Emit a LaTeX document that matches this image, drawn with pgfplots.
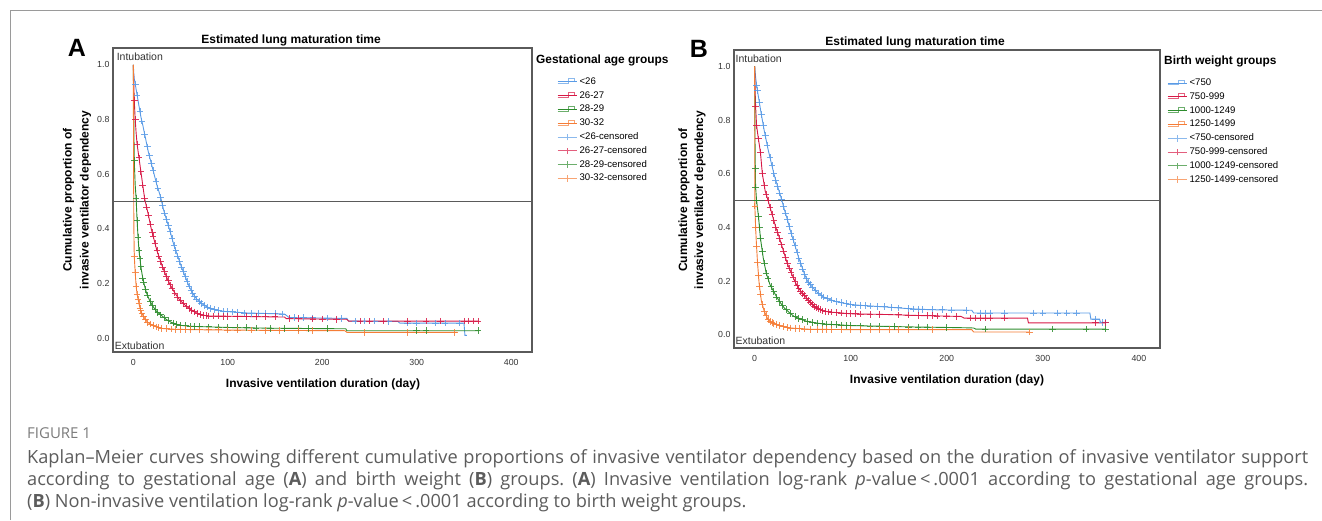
\documentclass[border=0pt]{standalone}
\usepackage{fontspec}
\setmainfont{Liberation Sans}
\newfontfamily\capfont{Open Sans}
\usepackage{pgfplots}
\usepackage{pgfplotstable}
\pgfplotsset{compat=1.18}

\definecolor{kmblue}{HTML}{5A9BE6}
\definecolor{kmred}{HTML}{D71946}
\definecolor{kmgreen}{HTML}{2D8C2D}
\definecolor{kmorange}{HTML}{F57D37}
\definecolor{boxgray}{HTML}{5A5A5A}
\definecolor{framegray}{HTML}{9A9A9A}
\definecolor{capgray}{HTML}{5C5C5C}

% ---------- panel A: gestational age groups ----------
\pgfplotstableread{
t s
0 1.0
0.5 0.97
1 0.95
2 0.93
4 0.89
6 0.85
8 0.81
10 0.78
13 0.73
16 0.68
19 0.64
22 0.60
25 0.56
29 0.515
32 0.47
35 0.435
39 0.39
43 0.34
47 0.30
51 0.26
55 0.225
59 0.19
63 0.163
67 0.143
72 0.127
78 0.114
85 0.105
95 0.098
120 0.092
160 0.088
165 0.075
226 0.072
228 0.062
280 0.061
282 0.055
350 0.055
351 0.01
353 0.01
}\blueA
\pgfplotstableread{
t s
0 1.0
0.5 0.93
1 0.87
2 0.80
3 0.75
4 0.71
6 0.66
8 0.61
10 0.56
12 0.51
14 0.48
16 0.45
19 0.40
22 0.36
25 0.32
28 0.29
31 0.26
35 0.225
39 0.195
44 0.165
49 0.14
55 0.12
61 0.104
67 0.092
73 0.084
80 0.081
100 0.080
160 0.077
162 0.071
226 0.069
228 0.062
366 0.062
}\redA
\pgfplotstableread{
t s
0 1.0
0.5 0.80
1 0.65
2 0.56
3 0.51
4 0.43
5 0.37
6 0.32
7 0.29
8.5 0.25
10 0.22
12 0.19
14 0.165
17 0.14
20 0.12
24 0.10
29 0.085
35 0.068
40 0.058
49 0.047
60 0.043
80 0.041
110 0.038
150 0.036
225 0.034
226 0.027
366 0.027
}\greenA
\pgfplotstableread{
t s
0 1.0
0.3 0.60
0.6 0.40
1 0.30
2 0.24
3 0.19
4 0.16
5.5 0.135
7 0.11
9 0.09
12 0.072
15 0.058
20 0.047
25 0.04
31 0.035
45 0.032
80 0.030
150 0.028
224 0.027
226 0.021
343 0.021
}\orangeA
\pgfplotstableread{
t s
2 .93
4 .89
7 .83
9 .795
12 .745
15 .70
17 .667
19 .64
21 .613
24 .573
26 .549
29 .515
31 .485
33 .458
35 .435
37 .412
39 .39
41 .365
43 .34
45 .32
47 .30
49 .28
51 .26
53 .243
55 .225
57 .207
59 .19
61 .176
63 .163
65 .153
67 .143
70 .133
72 .127
75 .12
78 .114
82 .109
86 .104
90 .101
95 .098
100 .097
105 .096
110 .095
118 .092
125 .091
132 .090
140 .090
150 .089
158 .088
170 .075
180 .075
190 .074
205 .073
220 .072
235 .062
245 .062
255 .062
270 .061
290 .055
300 .055
320 .055
330 .055
345 .055
}\blueAc
\pgfplotstableread{
t s
1 .87
2 .80
4 .71
6 .66
8 .61
10 .56
12 .51
14 .48
16 .45
18 .417
20 .387
21 .373
23 .347
25 .32
27 .30
29 .28
31 .26
33 .243
35 .225
37 .21
39 .195
41 .183
44 .165
47 .15
50 .137
53 .127
56 .117
59 .109
62 .102
65 .096
68 .091
71 .086
74 .083
77 .082
80 .081
85 .081
90 .081
95 .080
100 .080
110 .080
120 .079
130 .079
140 .078
150 .078
165 .071
175 .071
190 .070
200 .070
215 .069
240 .062
250 .062
265 .062
290 .062
310 .062
325 .062
350 .062
355 .062
360 .062
365 .062
}\redAc
\pgfplotstableread{
t s
1 .65
3 .51
4 .43
5 .37
6 .32
7 .29
8 .263
10 .22
11 .205
13 .178
15 .157
18 .133
20 .12
23 .105
26 .094
29 .085
33 .074
37 .064
42 .055
46 .050
50 .046
55 .045
60 .043
65 .043
70 .042
80 .041
90 .040
100 .039
110 .038
120 .038
130 .037
145 .036
160 .036
175 .036
185 .035
205 .034
300 .027
310 .027
365 .027
}\greenAc
\pgfplotstableread{
t s
1 .30
2 .24
3 .19
4 .16
5 .143
6 .127
7 .11
8 .10
9 .09
11 .078
13 .067
15 .058
18 .051
21 .045
24 .041
27 .038
30 .036
35 .034
40 .033
45 .032
50 .032
55 .031
60 .031
70 .030
80 .030
90 .030
100 .029
110 .029
125 .029
140 .028
155 .028
175 .028
190 .028
245 .021
290 .021
340 .021
}\orangeAc

% ---------- panel B: birth weight groups ----------
\pgfplotstableread{
t s
0 1.0
0.5 0.98
1 0.96
2 0.93
4 0.885
7 0.82
10 0.76
12 0.725
14 0.69
16 0.66
18 0.63
20 0.60
22 0.575
25 0.54
28 0.505
31 0.465
34 0.43
37 0.39
40 0.355
43 0.32
46 0.285
49 0.255
52 0.225
55 0.20
58 0.186
62 0.17
66 0.155
72 0.14
79 0.13
85 0.123
92 0.118
100 0.113
108 0.110
125 0.106
142 0.102
160 0.097
184 0.093
226 0.091
228 0.081
349 0.081
350 0.058
359 0.058
360 0.046
365 0.046
}\blueB
\pgfplotstableread{
t s
0 1.0
0.5 0.91
1 0.85
2 0.78
3.5 0.74
6 0.68
8 0.60
11 0.535
14 0.50
18 0.45
22 0.40
25 0.37
28 0.335
31 0.30
34 0.265
37 0.24
40 0.215
43 0.19
46 0.172
50 0.153
54 0.137
58 0.12
62 0.106
66 0.097
71 0.089
77 0.085
83 0.083
100 0.078
140 0.075
165 0.072
215 0.068
218 0.062
284 0.062
285 0.044
366 0.044
}\redB
\pgfplotstableread{
t s
0 1.0
0.3 0.76
0.6 0.62
1 0.55
2 0.50
4 0.44
6 0.36
9 0.285
12 0.23
16 0.186
20 0.16
23 0.14
27 0.118
31 0.099
36 0.083
41 0.068
48 0.058
54 0.05
62 0.045
71 0.04
100 0.034
163 0.029
217 0.026
228 0.025
230 0.021
366 0.021
}\greenB
\pgfplotstableread{
t s
0 1.0
0.2 0.48
1 0.40
1.7 0.348
2.9 0.273
4.6 0.193
7 0.125
10 0.087
14 0.056
18 0.045
23 0.037
30 0.030
37 0.025
58 0.020
100 0.019
226 0.019
228 0.010
286 0.010
}\orangeB
\pgfplotstableread{
t s
2 .93
3 .91
5 .865
7 .82
9 .78
11 .742
13 .707
16 .66
18 .63
20 .60
22 .575
24 .552
26 .528
28 .505
30 .478
32 .453
34 .43
36 .403
38 .378
40 .355
42 .332
44 .308
46 .285
48 .265
50 .245
52 .225
54 .208
56 .195
58 .186
60 .178
63 .166
66 .155
69 .147
72 .14
76 .134
80 .129
85 .123
90 .119
95 .116
100 .113
105 .111
110 .109
115 .108
120 .107
128 .105
135 .104
142 .102
150 .10
160 .097
165 .096
170 .095
175 .094
185 .093
195 .093
205 .092
220 .091
235 .081
240 .081
245 .081
260 .081
290 .081
300 .081
315 .081
325 .081
335 .081
355 .058
362 .046
365 .046
}\blueBc
\pgfplotstableread{
t s
1 .85
2 .78
4 .73
6 .68
8 .60
10 .557
12 .523
14 .50
16 .475
18 .45
20 .425
22 .40
24 .38
26 .358
28 .335
30 .312
32 .288
34 .265
36 .248
38 .232
40 .215
42 .198
44 .184
46 .172
48 .162
50 .153
52 .145
54 .137
56 .128
58 .12
60 .113
62 .106
64 .101
66 .097
68 .094
71 .089
74 .087
77 .085
80 .084
85 .082
90 .081
95 .079
100 .078
105 .078
110 .077
120 .076
130 .075
150 .074
160 .073
170 .072
180 .071
185 .071
190 .070
200 .069
210 .068
225 .062
230 .062
235 .062
240 .062
245 .062
260 .062
355 .044
365 .044
}\redBc
\pgfplotstableread{
t s
0.6 .62
1 .55
2 .50
4 .44
5 .40
6 .36
8 .31
10 .267
12 .23
14 .208
17 .18
20 .16
23 .14
26 .123
29 .108
33 .093
37 .08
42 .067
46 .061
50 .056
55 .05
60 .046
65 .043
70 .041
75 .04
80 .038
85 .037
90 .036
95 .035
100 .034
110 .033
120 .032
130 .031
145 .030
160 .029
170 .029
180 .028
200 .027
240 .021
310 .021
345 .021
365 .021
}\greenBc
\pgfplotstableread{
t s
0.2 .48
1 .40
2 .33
3 .27
4 .22
5 .18
6 .152
8 .112
10 .087
12 .071
14 .056
16 .05
18 .045
20 .042
23 .037
26 .034
30 .03
34 .027
37 .025
42 .024
47 .023
52 .021
58 .02
65 .02
70 .02
75 .02
80 .02
90 .019
100 .019
110 .019
120 .019
130 .019
140 .019
150 .019
160 .019
185 .019
286 .010
}\orangeBc

\pgfplotsset{
  km/.style={
    scale only axis, anchor=south west,
    xmin=-21.5, xmax=422,
    xtick={0,100,200,300,400}, ytick={0,0.2,0.4,0.6,0.8,1.0},
    major tick length=0pt,
    axis line style={draw=boxgray, line width=1.2pt},
    tick label style={font=\fontsize{8.8}{10}\selectfont, text=black!80},
    /pgf/number format/assume math mode=true,
    yticklabel style={/pgf/number format/.cd, fixed, fixed zerofill, precision=1},
    xticklabel style={yshift=-4pt},
    legend style={draw=none, fill=none, inner sep=0pt, anchor=north west,
      font=\fontsize{9.6}{11}\selectfont, row sep=4.8pt,
      nodes={inner xsep=2.5pt, inner ysep=0pt, text height=7pt, text depth=2pt}},
    legend cell align=left,
  },
  stepimg/.style={legend image code/.code={
    \draw[#1, line width=0.8pt] (0pt,-1.7pt) -- (11pt,-1.7pt) -- (11pt,3pt) -- (17pt,3pt) -- (17pt,-0.5pt);
    \path (0pt,0pt) -- (19pt,0pt);}},
  censimg/.style={legend image code/.code={
    \draw[#1, line width=0.8pt] (0pt,0pt) -- (19pt,0pt) (9.5pt,-3.3pt) -- (9.5pt,3.3pt);}},
  curve/.style={color=#1, line width=0.9pt, no marks, stepimg={#1!70}},
  cens/.style={color=#1, only marks, mark=+, mark size=3.3pt, mark options={line width=0.8pt, opacity=0.85}, censimg={#1!70}},
}

\begin{document}
\frenchspacing
\begin{tikzpicture}[x=1pt,y=1pt]
\path[use as bounding box] (0,0) rectangle (1322,-520);
\draw[framegray, line width=1pt] (10,-520) -- (10,-10.5) -- (1322,-10.5);

% panel A
\begin{axis}[km, at={(113pt,-352pt)}, width=419pt, height=304pt,
  ymin=-0.051, ymax=1.062, legend style={at={(1.0597,0.904)}}]
\addplot[curve=kmblue] table {\blueA};
\addplot[curve=kmred] table {\redA};
\addplot[curve=kmgreen] table {\greenA};
\addplot[curve=kmorange] table {\orangeA};
\addplot[cens=kmblue] table {\blueAc};
\addplot[cens=kmred] table {\redAc};
\addplot[cens=kmgreen] table {\greenAc};
\addplot[cens=kmorange] table {\orangeAc};
\addplot[boxgray, line width=1pt, forget plot] coordinates {(-21.5,0.5) (422,0.5)};
\legend{<26,26-27,28-29,30-32,<26-censored,26-27-censored,28-29-censored,30-32-censored}
\end{axis}

% panel B
\begin{axis}[km, at={(734pt,-348pt)}, width=426pt, height=298pt,
  ymin=-0.0496, ymax=1.061, legend style={at={(1.0164,0.905)}}]
\addplot[curve=kmblue] table {\blueB};
\addplot[curve=kmred] table {\redB};
\addplot[curve=kmgreen] table {\greenB};
\addplot[curve=kmorange] table {\orangeB};
\addplot[cens=kmblue] table {\blueBc};
\addplot[cens=kmred] table {\redBc};
\addplot[cens=kmgreen] table {\greenBc};
\addplot[cens=kmorange] table {\orangeBc};
\addplot[boxgray, line width=1pt, forget plot] coordinates {(-21.5,0.5) (422,0.5)};
\legend{<750,750-999,1000-1249,1250-1499,<750-censored,750-999-censored,1000-1249-censored,1250-1499-censored}
\end{axis}

% texts of panel A
\node[font=\bfseries\fontsize{25}{25}\selectfont] at (77,-48) {A};
\node[font=\bfseries\fontsize{12}{14}\selectfont] at (291,-40) {Estimated lung maturation time};
\node[font=\bfseries\fontsize{12}{14}\selectfont] at (323,-384) {Invasive ventilation duration (day)};
\node[font=\bfseries\fontsize{12}{17}\selectfont, rotate=90, align=center] at (77,-200) {Cumulative proportion of\\invasive ventilator dependency};
\node[font=\fontsize{10.5}{12}\selectfont, anchor=west, inner sep=0pt, text=black!80] at (116.6,-57) {Intubation};
\node[font=\fontsize{10.5}{12}\selectfont, anchor=west, inner sep=0pt, text=black!80] at (114.6,-346) {Extubation};
\node[font=\bfseries\fontsize{11.9}{14}\selectfont, anchor=west, inner sep=0pt] at (536,-60.7) {Gestational age groups};

% texts of panel B
\node[font=\bfseries\fontsize{25}{25}\selectfont] at (699,-49) {B};
\node[font=\bfseries\fontsize{12}{14}\selectfont] at (915,-42) {Estimated lung maturation time};
\node[font=\bfseries\fontsize{12}{14}\selectfont] at (947,-380) {Invasive ventilation duration (day)};
\node[font=\bfseries\fontsize{12}{16}\selectfont, rotate=90, align=center] at (692,-200) {Cumulative proportion of\\invasive ventilator dependency};
\node[font=\fontsize{10.5}{12}\selectfont, anchor=west, inner sep=0pt, text=black!80] at (735.4,-58.3) {Intubation};
\node[font=\fontsize{10.5}{12}\selectfont, anchor=west, inner sep=0pt, text=black!80] at (735.4,-340.7) {Extubation};
\node[font=\bfseries\fontsize{11.9}{14}\selectfont, anchor=west, inner sep=0pt] at (1164,-61.7) {Birth weight groups};

% caption
\node[anchor=base west, inner sep=0pt, font=\capfont\fontsize{15}{16}\selectfont, text=framegray!80!black] at (27,-438.5) {FIGURE 1};
\node[anchor=base west, inner sep=0pt, text width=1281pt, align=justify,
  font=\capfont\fontsize{18.2}{22}\selectfont, text=capgray] at (27,-463)
  {Kaplan–Meier curves showing different cumulative proportions of invasive ventilator dependency based on the duration of invasive ventilator support\linebreak
   according to gestational age (\textbf{A}) and birth weight (\textbf{B}) groups. (\textbf{A}) Invasive ventilation log-rank \textit{p}-value\,<\,.0001 according to gestational age groups.\linebreak
   (\textbf{B}) Non-invasive ventilation log-rank \textit{p}-value\,<\,.0001 according to birth weight groups.};
\end{tikzpicture}
\end{document}
